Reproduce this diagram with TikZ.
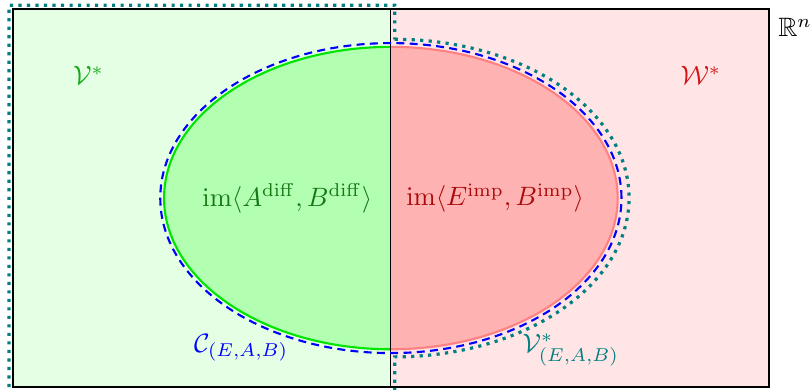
\documentclass[tikz,border=0pt]{standalone}
\usepackage{amsmath,amssymb}
\usetikzlibrary{positioning}
\definecolor{vgreen}{RGB}{20,170,20}
\definecolor{dgreen}{RGB}{20,120,20}
\definecolor{wred}{RGB}{210,20,20}
\definecolor{dred}{RGB}{170,10,10}

\begin{document}
\begin{tikzpicture}[font=\normalsize,
    halfv/.style={fill=green!30},
    halfw/.style={fill=red!30},
    cset/.style={blue,thick,dash pattern=on 3pt off 2pt},
    vset/.style={teal,very thick,dotted}]
    \useasboundingbox (-5.17,-2.53) rectangle (5.57,2.62);
    % background halves
    \fill[green!10] (-5,-2.5) rectangle (0,2.5);
    \fill[red!10] (0,-2.5) rectangle (5,2.5);
    % the image of the pencil, split in two
    \fill[halfv] (0,2) arc[start angle=90,end angle=270,x radius=3,y radius=2] -- cycle;
    \fill[halfw] (0,2) arc[start angle=90,end angle=-90,x radius=3,y radius=2] -- cycle;
    \draw[thick,green!90!black] (0,2) arc[start angle=90,end angle=270,x radius=3,y radius=2];
    \draw[thick,red!50] (0,2) arc[start angle=90,end angle=-90,x radius=3,y radius=2];
    \draw (0,-2.5) -- (0,2.5);
    \draw[thick] (-5,-2.5) rectangle (5,2.5);
    % the two limit sets
    \draw[cset] (0,0) ellipse[x radius=3.05,y radius=2.05];
    \draw[vset] (0.05,2.1) arc[start angle=90,end angle=-90,x radius=3.1,y radius=2.1]
      -- (0.05,-2.6) -- (-5.05,-2.6) -- (-5.05,2.55) -- (0.05,2.55) -- cycle;
    % labels
    \node[text=vgreen] (vstar) at (-4,1.62) {$\mathcal{V}^*$};
    \node[text=wred] (wstar) at (4.1,1.62) {$\mathcal{W}^*$};
    \node[anchor=north west] (rn) at (5,2.5) {$\mathbb{R}^n$};
    \node[text=dgreen] (imdiff) at (-1.37,0) {$\operatorname{im}\langle A^{\mathrm{diff}},B^{\mathrm{diff}}\rangle$};
    \node[text=dred] (imimp) at (1.38,0) {$\operatorname{im}\langle E^{\mathrm{imp}},B^{\mathrm{imp}}\rangle$};
    \node[text=blue] (ceab) at (-1.98,-1.98) {$\mathcal{C}_{(E,A,B)}$};
    \node[text=teal] (veab) at (2.38,-2.01) {$\mathcal{V}^*_{(E,A,B)}$};
  \end{tikzpicture}
\end{document}
